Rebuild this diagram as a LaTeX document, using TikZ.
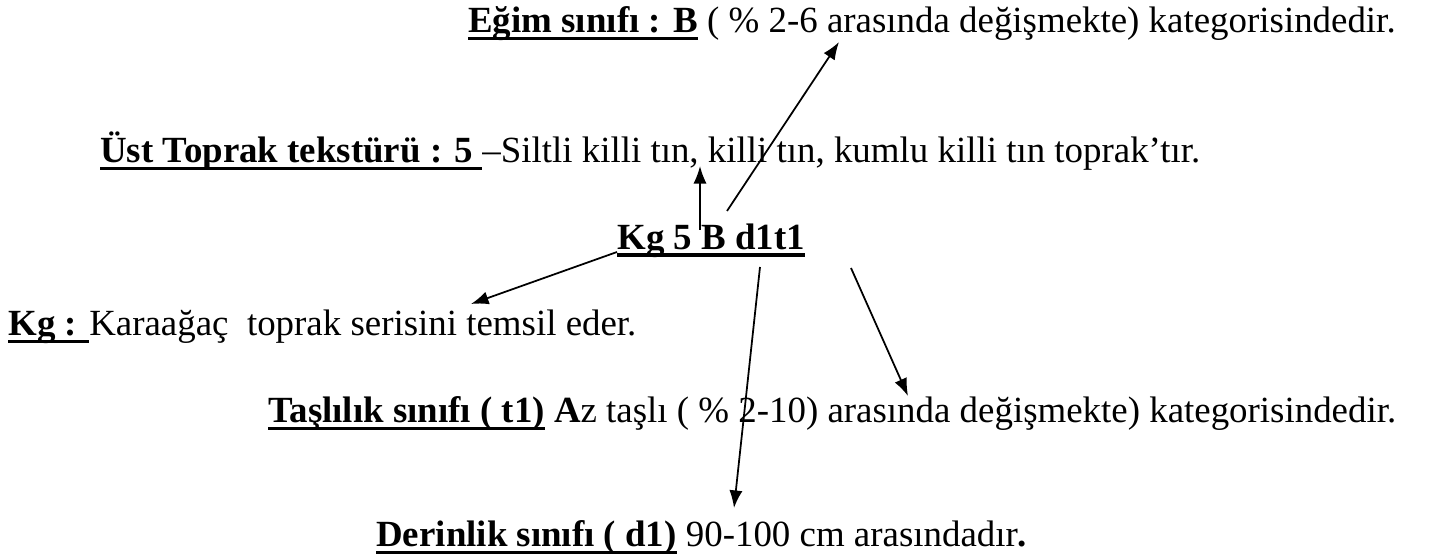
\documentclass[tikz,border=0pt]{standalone}
\usepackage{fontspec}
\setmainfont{Liberation Serif}
\usetikzlibrary{arrows.meta,positioning}
\newcommand{\ulbf}[2][1.7pt]{\setbox0\hbox{\bfseries #2}\leavevmode\rlap{\rule[-3.9pt]{\wd0}{#1}}\box0\relax}

\begin{document}
\begin{tikzpicture}[x=0.02cm, y=-0.02cm,
        txt/.style={anchor=base west, inner sep=0pt, font=\fontsize{21}{25}\selectfont},
        code/.style={anchor=base west, inner sep=0pt, font=\fontsize{21}{25}\selectfont},
        arrow/.style={-{Latex[length=10pt,width=7.5pt]}, line width=1pt}
    ]
        \useasboundingbox (0,0) rectangle (1438,560);

        \node[txt] (egim) at (468,33) {\ulbf{Eğim sınıfı : B} ( \% 2-6 arasında değişmekte) kategorisindedir.};
        \node[txt] (ust) at (100,163) {\ulbf{Üst Toprak tekstürü : 5 }–Siltli killi tın, killi tın, kumlu killi tın toprak’tır.};
        \node[code] (kod) at (617,250) {\ulbf[2.3pt]{Kg 5 B d1t1}};
        \node[txt] (seri) at (8,336) {\ulbf{Kg : }Karaağaç\ \ toprak serisini temsil eder.};
        \node[txt] (tas) at (268,423) {\ulbf{Taşlılık sınıfı ( t1)} \textbf{A}z taşlı ( \% 2-10) arasında değişmekte) kategorisindedir.};
        \node[txt] (der) at (376,547) {\ulbf{Derinlik sınıfı ( d1)} 90-100 cm arasındadır\textbf{.}};

        % arrow ends
        \coordinate (a1) at (700,230);
        \coordinate (b1) at (700,166);
        \coordinate (a2) at (727,211);
        \coordinate (b2) at (839,42);
        \coordinate (a3) at (617,252);
        \coordinate (b3) at (471,304);
        \coordinate (a4) at (760,267);
        \coordinate (b4) at (734,508);
        \coordinate (a5) at (851,268);
        \coordinate (b5) at (908,396);

        \draw[arrow] (a1) -- (b1);
        \draw[arrow] (a2) -- (b2);
        \draw[arrow] (a3) -- (b3);
        \draw[arrow] (a4) -- (b4);
        \draw[arrow] (a5) -- (b5);
\end{tikzpicture}
\end{document}
